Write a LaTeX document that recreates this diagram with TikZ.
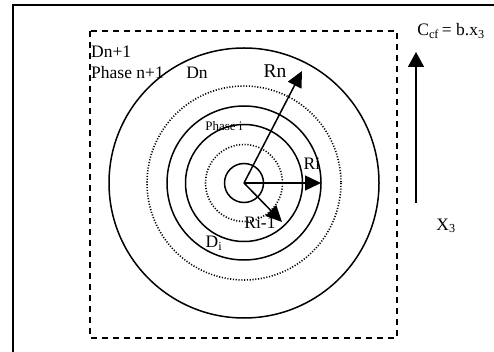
\documentclass[tikz,border=0pt]{standalone}
\usepackage{fontspec}
\setmainfont{Liberation Serif}
\usetikzlibrary{arrows.meta}
\tikzset{
  ring/.style={draw, line width=1.5pt},
  dotring/.style={draw, line width=1.6pt, dash pattern=on 1.1pt off 1.7pt},
  frame/.style={draw, line width=2.2pt},
  dashbox/.style={draw, line width=1.4pt, dash pattern=on 6pt off 5pt},
  radius arrow/.style={line width=1.5pt, -{Triangle[length=16pt,width=15pt]}},
  lbl/.style={inner sep=0pt, font=\fontsize{17.5}{20}\selectfont},
  biglbl/.style={inner sep=0pt, font=\fontsize{19.5}{22}\selectfont},
  smalllbl/.style={inner sep=0pt, font=\fontsize{13}{15}\selectfont},
}
\begin{document}
\begin{tikzpicture}[x=1pt,y=-1pt]
\useasboundingbox (0,0) rectangle (494,352);
\fill[white] (0,0) rectangle (494,352);
% outer frame (right and bottom edges lie outside the picture)
\draw[frame] (13,353) -- (13,5) -- (495,5);
% dashed box
\draw[dashbox] (90,31) rectangle (397,338);
% circles
\coordinate (c) at (244,183);
\draw[ring] (c) circle (135);
\draw[dotring] (c) circle (97);
\draw[ring] (c) circle (77);
\draw[ring] (c) circle (58.5);
\draw[dotring] (c) circle (38.5);
\draw[ring] (c) circle (19.5);
% radius arrows
\coordinate (rn) at (302,71);
\coordinate (ri) at (321,183);
\coordinate (rim) at (282,222);
\draw[radius arrow] (c) -- (rn);
\draw[radius arrow] (c) -- (ri);
\draw[radius arrow] (c) -- (rim);
% x3 axis arrow
\coordinate (xb) at (416,203);
\coordinate (xt) at (416,52);
\draw[radius arrow, -{Triangle[length=15pt,width=16pt]}] (xb) -- (xt);
% labels
\node[lbl, anchor=west] (dn1) at (91,52) {Dn+1};
\node[lbl, anchor=west] (phn1) at (91,73) {Phase n+1};
\node[lbl] (dn) at (197,73) {Dn};
\node[biglbl] (rnl) at (275,71) {Rn};
\node[smalllbl] (phi) at (224,126) {Phase i};
\node[lbl] (ril) at (312,164) {Ri};
\node[lbl] (rim1) at (260,223) {Ri-1};
\node[lbl] (di) at (214,243) {D\textsubscript{i}};
\node[lbl] (x3) at (446,226) {X\textsubscript{3}};
\node[lbl] (ccf) at (451,31) {C\textsubscript{cf}\,= b.x\textsubscript{3}};
\end{tikzpicture}
\end{document}
